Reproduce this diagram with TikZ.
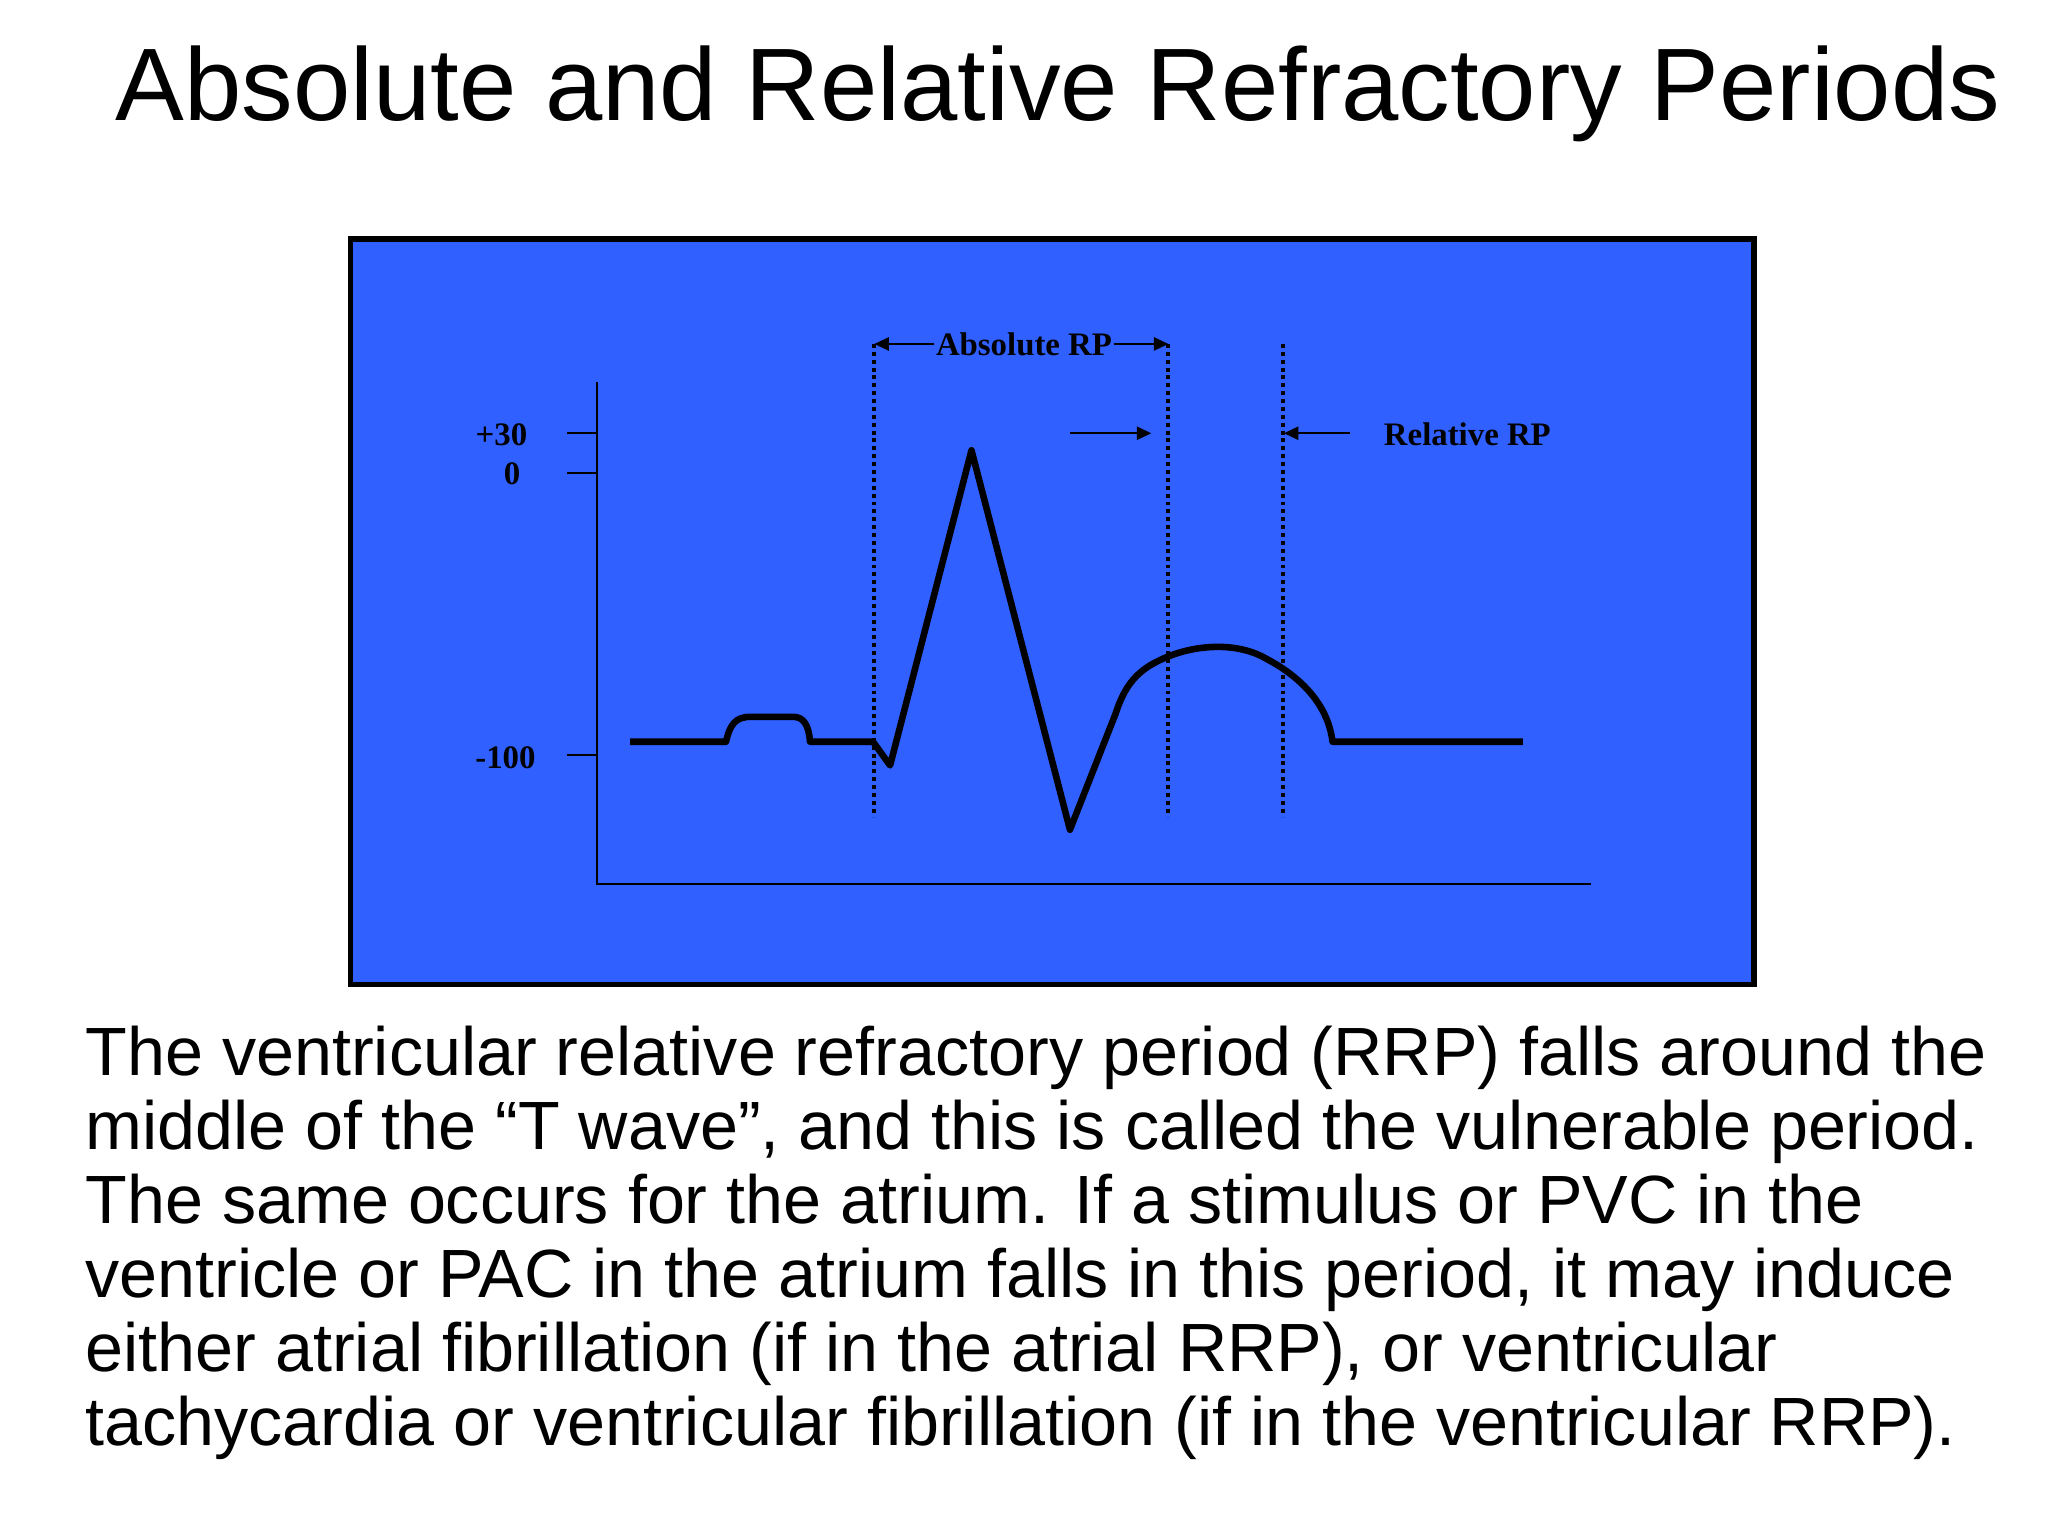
\documentclass[tikz,border=0pt]{standalone}
\usepackage{fontspec}
\setmainfont{Liberation Sans}
\newfontfamily\plotfont{Liberation Serif}
\usetikzlibrary{arrows.meta}
\begin{document}
\begin{tikzpicture}[x=1pt,y=-1pt,
  wave/.style={line width=5pt,line join=round},
  axisline/.style={line width=1.5pt},
  vdot/.style={line width=3pt,dash pattern=on 3pt off 3pt},
  lab/.style={font=\plotfont\bfseries\fontsize{25}{27}\selectfont,inner sep=0pt},
  arr/.style={line width=1.5pt,-{Triangle[length=11pt,width=10pt]}}]
\useasboundingbox (0,0) rectangle (1560,1170);
\node[anchor=base,inner sep=0pt,font=\fontsize{78.5}{84}\selectfont] (title) at (806,92) {Absolute and Relative Refractory Periods};
\draw[line width=4pt,fill={rgb,255:red,48;green,96;blue,255}] (267,182) rectangle (1336,750);
% axes
\draw[axisline] (455,291) -- (455,673) -- (1212,673);
\draw[axisline] (432,330) -- (455,330);
\draw[axisline] (432,360) -- (455,360);
\draw[axisline] (432,575) -- (455,575);
\node[lab] (p30) at (382,331) {+30};
\node[lab] (z0) at (390,361) {0};
\node[lab] (m100) at (385,577) {-100};
% dotted lines
\coordinate (d1t) at (666,262); \coordinate (d1b) at (666,622);
\coordinate (d2t) at (890,262); \coordinate (d2b) at (890,622);
\coordinate (d3t) at (977,262); \coordinate (d3b) at (977,622);
\draw[vdot] (d1t) -- (d1b);
\draw[vdot] (d2t) -- (d2b);
\draw[vdot] (d3t) -- (d3b);
\node[lab,fill={rgb,255:red,48;green,96;blue,255},inner xsep=1pt] (abs) at (780,262) {Absolute RP};
\draw[arr] (abs.west) -- (d1t);
\draw[arr] (abs.east) -- (d2t);
\coordinate (a1) at (815,330); \coordinate (a1e) at (877,330);
\coordinate (a2) at (1028,330); \coordinate (a2e) at (978,330);
\draw[arr] (a1) -- (a1e);
\draw[arr] (a2) -- (a2e);
\node[lab,anchor=west] (rel) at (1054,331) {Relative RP};
% waveform
\draw[wave] (480,565) -- (553,565) .. controls (556,552) and (560,546) .. (572,546)
  -- (604,546) .. controls (612,546) and (616,552) .. (617,565) -- (665,565) -- (678,583)
  -- (740,343) -- (815,632) -- (850,543)
  .. controls (858,518) and (870,508) .. (890,500)
  .. controls (915,490) and (945,490) .. (965,502)
  .. controls (995,518) and (1012,540) .. (1015,565) -- (1160,565);
% text
\node[anchor=north west,inner sep=0pt,align=left,font=\fontsize{52}{56.5}\selectfont] (body) at (65,781)
{The ventricular relative refractory period (RRP) falls around the\\
middle of the “T wave”, and this is called the vulnerable period.\\
The same occurs for the atrium. If a stimulus or PVC in the\\
ventricle or PAC in the atrium falls in this period, it may induce\\
either atrial fibrillation (if in the atrial RRP), or ventricular\\
tachycardia or ventricular fibrillation (if in the ventricular RRP).};
\end{tikzpicture}
\end{document}
